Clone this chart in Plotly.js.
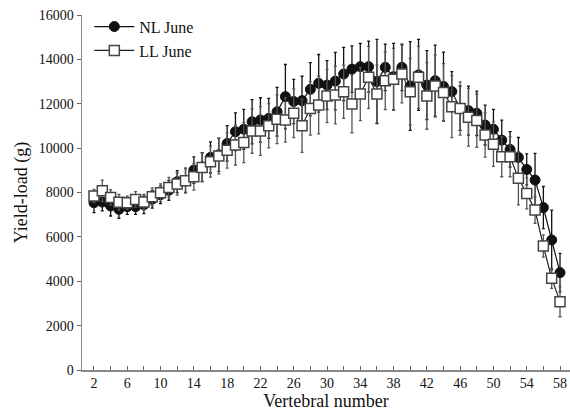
<!DOCTYPE html>
<html>
<head>
<meta charset="utf-8">
<script src="https://cdn.plot.ly/plotly-3.0.1.min.js"></script>
<style>html,body{margin:0;padding:0;background:#fff;}#chart{width:570px;height:416px;}</style>
</head>
<body>
<div id="chart"></div>
<script>
const vertebra = [2,3,4,5,6,7,8,9,10,11,12,13,14,15,16,17,18,19,20,21,22,23,24,25,26,27,28,29,30,31,32,33,34,35,36,37,38,39,40,41,42,43,44,45,46,47,48,49,50,51,52,53,54,55,56,57,58];
const nlJune = [7540,7570,7390,7240,7360,7360,7450,7700,7900,8100,8490,8550,9010,9150,9580,9700,10210,10740,10850,11190,11270,11340,11640,12320,12100,12140,12650,12920,12840,13020,13340,13560,13670,13670,13000,13640,13220,13640,12800,13300,12840,13040,12780,12550,11800,11690,11570,11040,10850,10360,9940,9580,9040,8560,7320,5860,4390];
const nlErr = [450,400,450,400,350,350,400,400,400,450,500,550,600,650,700,750,800,850,900,1000,1000,900,1100,1450,1000,1100,1200,1300,1100,1300,1200,1050,1050,1150,1900,1050,1500,1050,2000,1600,1550,1600,1550,900,1000,1100,1000,900,900,900,800,900,700,1200,950,1350,870];
const llJune = [7840,8080,7780,7560,7540,7690,7570,7810,7990,8230,8380,8530,8710,9130,9390,9640,9900,10140,10250,10770,10770,11010,11300,11270,11570,11010,11790,11940,12350,12390,12540,11990,12440,13190,12440,13040,13100,13340,12540,13190,12350,12800,12510,11870,11790,11390,11240,10590,10180,9610,9610,8640,7960,7210,5590,4130,3080];
const llErr = [300,480,350,350,300,350,350,400,400,450,500,550,600,650,700,800,800,900,900,1000,1100,1000,1100,1000,1100,1200,1200,1300,1200,1300,1200,1300,1200,1400,1300,1300,1400,1300,1500,1400,1500,1400,1300,1400,1200,1300,1200,1000,1000,900,900,1200,700,600,500,450,680];
const xTicks = [2,6,10,14,18,22,26,30,34,38,42,46,50,54,58];
const yTicks = [0,2000,4000,6000,8000,10000,12000,14000,16000];

const font = "Liberation Serif, Times New Roman, serif";
const traces = [
  {
    x: vertebra, y: nlJune, name: 'NL June', type: 'scatter', mode: 'lines+markers',
    line: {color: '#111', width: 1.2},
    marker: {symbol: 'circle', size: 10, color: '#111', line: {color: '#111', width: 1}},
    error_y: {type: 'data', array: nlErr, visible: true, color: '#111', thickness: 1.3, width: 1.5}
  },
  {
    x: vertebra, y: llJune, name: 'LL June', type: 'scatter', mode: 'lines+markers',
    line: {color: '#222', width: 1.2},
    marker: {symbol: 'square', size: 10, color: '#fff', line: {color: '#444', width: 1.5}},
    error_y: {type: 'data', array: llErr, visible: true, color: '#555', thickness: 1.3, width: 1.5}
  }
];
const layout = {
  width: 570, height: 416,
  margin: {l: 82, r: 0, t: 15, b: 46},
  paper_bgcolor: '#fff', plot_bgcolor: '#fff',
  font: {family: font, color: '#111', size: 14},
  showlegend: true,
  legend: {x: 0.015, y: 1.015, xanchor: 'left', yanchor: 'top', bgcolor: 'rgba(0,0,0,0)',
           font: {family: font, size: 16, color: '#111'}, tracegroupgap: 0, itemwidth: 40},
  xaxis: {
    range: [0.56, 59.2], tickmode: 'array', tickvals: xTicks, ticktext: xTicks.map(String),
    showgrid: false, zeroline: false, showline: true, linecolor: '#888', linewidth: 1.5,
    ticks: 'inside', ticklen: 4, tickcolor: '#666', tickwidth: 1,
    minor: {tickmode: 'array', tickvals: [4,8,12,16,20,24,28,32,36,40,44,48,52,56], ticks: 'inside', ticklen: 4, tickcolor: '#666'},
    tickfont: {family: font, size: 14, color: '#111'},
    title: {text: 'Vertebral number', font: {family: font, size: 18, color: '#111'}, standoff: 4}
  },
  yaxis: {
    range: [0, 16000], tickmode: 'array', tickvals: yTicks, ticktext: yTicks.map(String),
    showgrid: false, zeroline: false, showline: true, linecolor: '#888', linewidth: 1.5,
    ticks: 'outside', ticklen: 4, tickcolor: '#666', tickwidth: 1,
    tickfont: {family: font, size: 14, color: '#111'},
    title: {text: 'Yield-load (g)', font: {family: font, size: 18, color: '#111'}, standoff: 6}
  }
};
Plotly.newPlot('chart', traces, layout, {displayModeBar: false, staticPlot: true});
</script>
</body>
</html>
